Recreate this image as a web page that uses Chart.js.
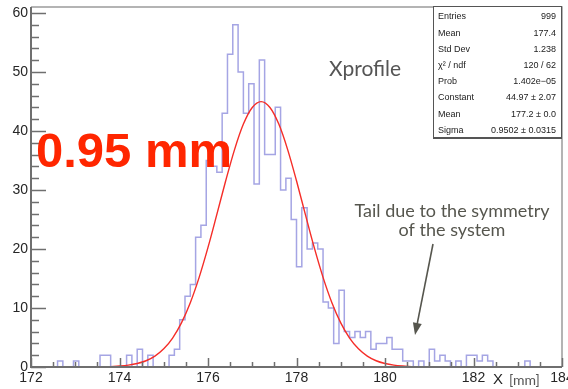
<!DOCTYPE html>
<html>
<head>
<meta charset="utf-8">
<script src="https://cdn.jsdelivr.net/npm/chart.js@4.4.0/dist/chart.umd.min.js"></script>
<style>
  body { margin: 0; background: #fff; }
  #wrap { width: 568px; height: 389px; position: relative; }
</style>
</head>
<body>
<div id="wrap"><canvas id="xprofile"></canvas></div>
<script>
// Xprofile histogram: 100 bins between 172 and 184 mm
const histMin = 172;
const histMax = 184;
const binCounts = [
  0, 0, 0, 0, 0, 0, 1, 0, 0, 1,
  0, 0, 0, 0, 2, 2, 0, 0, 0, 2,
  0, 3, 0, 2, 0, 0, 0, 2, 3, 8,
  12, 14, 22, 24, 35, 34, 33, 43, 53, 58,
  50, 43, 48, 31, 52, 36, 36, 44, 30, 32,
  25, 17, 27, 20, 21, 20, 11, 10, 4, 13,
  6, 5, 6, 5, 6, 3, 4, 4, 5, 3,
  3, 1, 1, 0, 1, 0, 3, 1, 2, 1,
  0, 1, 0, 2, 2, 1, 2, 1, 0, 0,
  0, 0, 0, 0, 1, 0, 0, 0, 0, 0
];

// gaussian fit curve, sampled every 0.2 mm over the fit range
const fitX = [
  173.8, 174.0, 174.2, 174.4, 174.6, 174.8, 175.0, 175.2, 175.4, 175.6,
  175.8, 176.0, 176.2, 176.4, 176.6, 176.8, 177.0, 177.2, 177.4, 177.6,
  177.8, 178.0, 178.2, 178.4, 178.6, 178.8, 179.0, 179.2, 179.4, 179.6,
  179.8, 180.0, 180.2, 180.4, 180.6
];
const fitY = [
  0.07, 0.16, 0.31, 0.59, 1.06, 1.85, 3.08, 4.91, 7.48, 10.90,
  15.19, 20.26, 25.85, 31.55, 36.84, 41.16, 43.98, 44.97, 43.98, 41.16,
  36.84, 31.55, 25.85, 20.26, 15.19, 10.90, 7.48, 4.91, 3.08, 1.85,
  1.06, 0.59, 0.31, 0.16, 0.07
];

const xTicks = [172, 174, 176, 178, 180, 182, 184];
const yTicks = [0, 10, 20, 30, 40, 50, 60];

const statNames = ["Entries", "Mean", "Std Dev", "χ² / ndf", "Prob", "Constant", "Mean", "Sigma"];
const statValues = ["999", "177.4", "1.238", "120 / 62", "1.402e\u221205", "44.97 \u00b1 2.07", "177.2 \u00b1 0.0", "0.9502 \u00b1 0.0315"];

const binWidth = (histMax - histMin) / binCounts.length;
const histPoints = binCounts.map((c, i) => ({ x: histMin + i * binWidth, y: c }));
histPoints.push({ x: histMax, y: binCounts[binCounts.length - 1] });

const fitPoints = fitX.map((x, i) => ({ x: x, y: fitY[i] }));

// frame, inward ticks, labels, stats box and notes, drawn the ROOT way
const rootFrame = {
  id: 'rootFrame',
  afterDraw(chart) {
    const ctx = chart.ctx;
    const xs = chart.scales.x;
    const ys = chart.scales.y;
    const a = chart.chartArea;
    ctx.save();

    // top and right frame
    ctx.strokeStyle = '#9c9c9c';
    ctx.lineWidth = 1.5;
    ctx.beginPath();
    ctx.moveTo(a.left, a.top);
    ctx.lineTo(a.right, a.top);
    ctx.lineTo(a.right, a.bottom);
    ctx.stroke();

    // axes
    ctx.strokeStyle = '#6f6f6f';
    ctx.lineWidth = 2;
    ctx.beginPath();
    ctx.moveTo(a.left, a.top);
    ctx.lineTo(a.left, a.bottom);
    ctx.lineTo(a.right, a.bottom);
    ctx.stroke();

    ctx.lineWidth = 1.5;
    ctx.beginPath();
    for (let v = 0; v <= 60; v += 2) {
      const py = Math.round(ys.getPixelForValue(v)) + 0.5;
      const len = v % 10 === 0 ? 15 : 8;
      ctx.moveTo(a.left, py);
      ctx.lineTo(a.left + len, py);
    }
    for (let v = 172; v <= 184; v += 0.5) {
      const px = Math.round(xs.getPixelForValue(v)) + 0.5;
      const len = v % 2 === 0 ? 9 : 5;
      ctx.moveTo(px, a.bottom);
      ctx.lineTo(px, a.bottom - len);
    }
    ctx.stroke();

    // tick labels
    ctx.fillStyle = '#262626';
    ctx.font = '14px "Liberation Sans", Arial, sans-serif';
    ctx.textAlign = 'right';
    ctx.textBaseline = 'middle';
    yTicks.forEach(v => ctx.fillText(String(v), 28, ys.getPixelForValue(v)));
    ctx.textAlign = 'center';
    xTicks.forEach(v => ctx.fillText(String(v), xs.getPixelForValue(v), 378));

    // axis title
    ctx.textAlign = 'left';
    ctx.font = '15px "Liberation Sans", Arial, sans-serif';
    ctx.fillText('X', 493, 380);
    ctx.fillStyle = '#555';
    ctx.font = '14px Lato, sans-serif';
    ctx.fillText('[mm]', 509, 380);

    // histogram name
    ctx.fillStyle = '#555';
    ctx.font = '21px Lato, sans-serif';
    ctx.fillText('Xprofile', 329, 69);

    // note on the tail
    ctx.fillStyle = '#56564e';
    ctx.font = '18px Lato, sans-serif';
    ctx.textAlign = 'center';
    ctx.textBaseline = 'alphabetic';
    ctx.fillText('Tail due to the symmetry', 452, 217);
    ctx.fillText('of the system', 452, 236);

    const x0 = 433, y0 = 244, x1 = 415, y1 = 335;
    const ang = Math.atan2(y1 - y0, x1 - x0);
    ctx.strokeStyle = '#56564e';
    ctx.lineWidth = 1.6;
    ctx.beginPath();
    ctx.moveTo(x0, y0);
    ctx.lineTo(x1 - 8 * Math.cos(ang), y1 - 8 * Math.sin(ang));
    ctx.stroke();
    ctx.beginPath();
    ctx.moveTo(x1, y1);
    ctx.lineTo(x1 - 12 * Math.cos(ang) + 4.5 * Math.sin(ang), y1 - 12 * Math.sin(ang) - 4.5 * Math.cos(ang));
    ctx.lineTo(x1 - 12 * Math.cos(ang) - 4.5 * Math.sin(ang), y1 - 12 * Math.sin(ang) + 4.5 * Math.cos(ang));
    ctx.closePath();
    ctx.fill();

    // fitted width
    ctx.fillStyle = 'rgb(255, 38, 0)';
    ctx.font = 'bold 49px "Liberation Sans", Arial, sans-serif';
    ctx.textAlign = 'left';
    ctx.fillText('0.95 mm', 36, 167);

    // stats box
    const bx = 433, by = 6, bw = a.right - 433, bh = 131;
    ctx.fillStyle = '#fff';
    ctx.fillRect(bx, by, bw, bh);
    ctx.strokeStyle = '#555';
    ctx.lineWidth = 1;
    ctx.strokeRect(bx + 0.5, by + 0.5, bw - 1, bh);
    ctx.lineWidth = 2;
    ctx.beginPath();
    ctx.moveTo(bx, by + bh + 1);
    ctx.lineTo(bx + bw, by + bh + 1);
    ctx.stroke();

    ctx.fillStyle = '#222';
    ctx.font = '9px "Liberation Sans", Arial, sans-serif';
    ctx.textBaseline = 'middle';
    statNames.forEach((name, i) => {
      const ty = 17 + i * 16.2;
      ctx.textAlign = 'left';
      ctx.fillText(name, 438, ty);
      ctx.textAlign = 'right';
      ctx.fillText(statValues[i], 556, ty);
    });

    ctx.restore();
  }
};

new Chart(document.getElementById('xprofile'), {
  type: 'line',
  data: {
    datasets: [
      {
        label: 'gaus',
        data: fitPoints,
        borderColor: 'rgb(245, 45, 40)',
        borderWidth: 1.4,
        pointRadius: 0,
        cubicInterpolationMode: 'monotone',
        order: 0
      },
      {
        label: 'Xprofile',
        data: histPoints,
        stepped: 'after',
        borderColor: 'rgb(165, 165, 228)',
        borderWidth: 1.5,
        pointRadius: 0,
        order: 1
      }
    ]
  },
  options: {
    responsive: true,
    maintainAspectRatio: false,
    animation: false,
    layout: { padding: { top: 7, right: 6, left: 0, bottom: 0 } },
    plugins: { legend: { display: false }, tooltip: { enabled: false } },
    scales: {
      x: {
        type: 'linear', min: histMin, max: histMax,
        grid: { display: false }, border: { display: false }, ticks: { display: false },
        afterFit: s => { s.height = 22; }
      },
      y: {
        min: 0, max: 61,
        grid: { display: false }, border: { display: false }, ticks: { display: false },
        afterFit: s => { s.width = 31; }
      }
    }
  },
  plugins: [rootFrame]
});
</script>
</body>
</html>
